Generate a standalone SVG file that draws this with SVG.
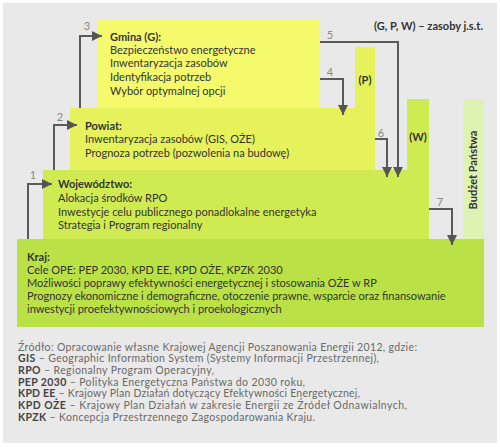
<svg xmlns="http://www.w3.org/2000/svg" width="500" height="447" viewBox="0 0 500 447">
<defs>
<marker id="arr" markerUnits="userSpaceOnUse" markerWidth="10" markerHeight="10" refX="10" refY="5" orient="auto">
<path d="M0,0 L10,5 L0,10 z" fill="#555"/>
</marker>
<style>
.t{font-family:Lato,"Open Sans","DejaVu Sans",sans-serif;font-size:11px;fill:#333}
.b{font-weight:bold}
.n{font-family:Lato,"Open Sans","DejaVu Sans",sans-serif;font-size:11px;fill:#888}
.f{font-family:Lato,"Open Sans","DejaVu Sans",sans-serif;font-size:10.5px;fill:#6a6a6a}
.fb{font-weight:bold;fill:#444}
.c{fill:none;stroke:#5a5a5a;stroke-width:2}
</style>
</defs>
<rect x="0" y="0" width="500" height="447" fill="#ffffff"/>
<rect x="3" y="3" width="494" height="440" fill="#e9e9e9"/>

<g id="kraj">
<rect x="17" y="239" width="467" height="88" fill="#bae246"/>
<text class="t b" x="27" y="261">Kraj:</text>
<text class="t" x="27" y="274">Cele OPE: PEP 2030, KPD EE, KPD OŻE, KPZK 2030</text>
<text class="t" x="27" y="287">Możliwości poprawy efektywności energetycznej i stosowania OŻE w RP</text>
<text class="t" x="27" y="300">Prognozy ekonomiczne i demograficzne, otoczenie prawne, wsparcie oraz finansowanie</text>
<text class="t" x="27" y="313">inwestycji proefektywnościowych i proekologicznych</text>
</g>

<g id="budzet">
<rect x="463" y="99" width="21" height="140" fill="#def3b2"/>
<text class="t b" transform="translate(477,170) rotate(-90)" text-anchor="middle">Budżet Państwa</text>
</g>

<g id="wojewodztwo">
<path d="M43,170 H407 V99 H429 V239 H43 z" fill="#d0eb52"/>
<text class="t b" x="418" y="141" text-anchor="middle">(W)</text>
<text class="t b" x="58" y="188">Województwo:</text>
<text class="t" x="58" y="202">Alokacja środków RPO</text>
<text class="t" x="58" y="216">Inwestycje celu publicznego ponadlokalne energetyka</text>
<text class="t" x="58" y="229">Strategia i Program regionalny</text>
</g>

<g id="powiat">
<path d="M70,108 H355 V47 H375 V170 H70 z" fill="#e5f25c"/>
<text class="t b" x="365" y="84" text-anchor="middle">(P)</text>
<text class="t b" x="85" y="130">Powiat:</text>
<text class="t" x="85" y="143">Inwentaryzacja zasobów (GIS, OŻE)</text>
<text class="t" x="85" y="157">Prognoza potrzeb (pozwolenia na budowę)</text>
</g>

<g id="gmina">
<rect x="97" y="19" width="223" height="89" fill="#f5fa6c"/>
<text class="t b" x="110" y="41">Gmina (G):</text>
<text class="t" x="110" y="54">Bezpieczeństwo energetyczne</text>
<text class="t" x="110" y="67">Inwentaryzacja zasobów</text>
<text class="t" x="110" y="81">Identyfikacja potrzeb</text>
<text class="t" x="110" y="95">Wybór optymalnej opcji</text>
</g>

<g id="legend">
<text class="t b" x="483" y="30" text-anchor="end">(G, P, W) – zasoby j.s.t.</text>
</g>

<g id="connectors">
<path class="c" d="M28,239 V184 H52" marker-end="url(#arr)"/>
<path class="c" d="M54,170 V125 H77" marker-end="url(#arr)"/>
<path class="c" d="M80,108 V36 H102" marker-end="url(#arr)"/>
<path class="c" d="M320,79 H343 V115" marker-end="url(#arr)"/>
<path class="c" d="M320,42 H398 V177" marker-end="url(#arr)"/>
<path class="c" d="M375,139 H387 V177" marker-end="url(#arr)"/>
<path class="c" d="M429,209 H452 V245" marker-end="url(#arr)"/>
<text class="n" x="33" y="179" text-anchor="middle">1</text>
<text class="n" x="60" y="121" text-anchor="middle">2</text>
<text class="n" x="87" y="30" text-anchor="middle">3</text>
<text class="n" x="330" y="76" text-anchor="middle">4</text>
<text class="n" x="330" y="39" text-anchor="middle">5</text>
<text class="n" x="381" y="137" text-anchor="middle">6</text>
<text class="n" x="440" y="206" text-anchor="middle">7</text>
</g>

<g id="footer">
<text class="f" x="18" y="351" textLength="399" lengthAdjust="spacing">Źródło: Opracowanie własne Krajowej Agencji Poszanowania Energii 2012, gdzie:</text>
<text class="f" x="18" y="362" textLength="361" lengthAdjust="spacing"><tspan class="fb">GIS</tspan> – Geographic Information System (Systemy Informacji Przestrzennej),</text>
<text class="f" x="18" y="374" textLength="196" lengthAdjust="spacing"><tspan class="fb">RPO</tspan> – Regionalny Program Operacyjny,</text>
<text class="f" x="18" y="386" textLength="287" lengthAdjust="spacing"><tspan class="fb">PEP 2030</tspan> – Polityka Energetyczna Państwa do 2030 roku,</text>
<text class="f" x="18" y="397" textLength="342" lengthAdjust="spacing"><tspan class="fb">KPD EE</tspan> – Krajowy Plan Działań dotyczący Efektywności Energetycznej,</text>
<text class="f" x="18" y="409" textLength="389" lengthAdjust="spacing"><tspan class="fb">KPD OŻE</tspan> – Krajowy Plan Działań w zakresie Energii ze Źródeł Odnawialnych,</text>
<text class="f" x="18" y="421" textLength="297" lengthAdjust="spacing"><tspan class="fb">KPZK</tspan> – Koncepcja Przestrzennego Zagospodarowania Kraju.</text>
</g>
</svg>
